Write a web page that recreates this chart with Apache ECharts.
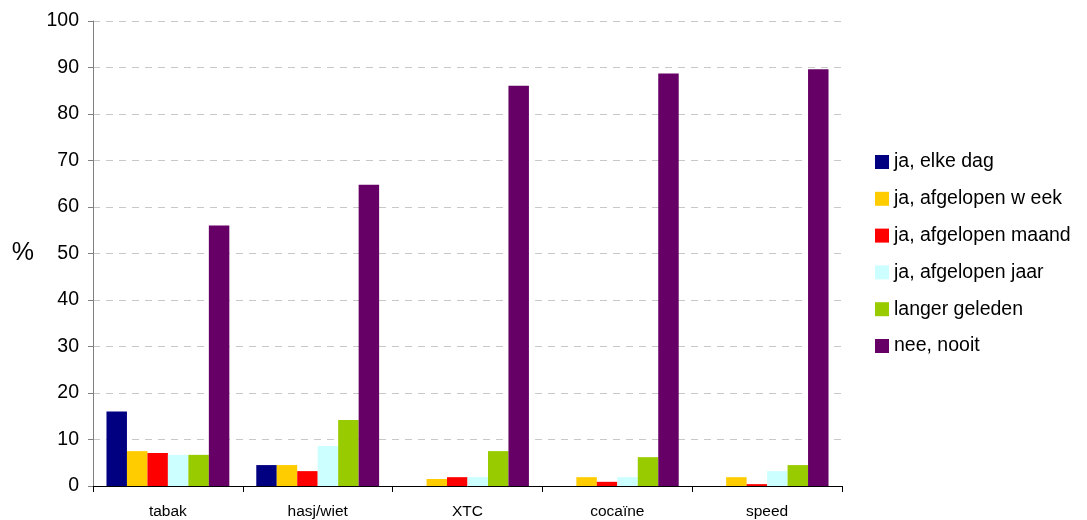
<!DOCTYPE html>
<html>
<head>
<meta charset="utf-8">
<script src="https://cdn.jsdelivr.net/npm/echarts@6/dist/echarts.min.js"></script>
<style>
  html, body { margin: 0; padding: 0; background: #fff; }
  #chart { width: 1087px; height: 520px; }
</style>
</head>
<body>
<div id="chart"></div>
<script>
const categories = ['tabak', 'hasj/wiet', 'XTC', 'cocaïne', 'speed'];
const seriesNames = ['ja, elke dag', 'ja, afgelopen w eek', 'ja, afgelopen maand', 'ja, afgelopen jaar', 'langer geleden', 'nee, nooit'];
const colors = ['#000080', '#FFCC00', '#FF0000', '#CCFFFF', '#99CC00', '#660066'];

const elkeDag = [16, 4.5, 0, 0, 0];
const week = [7.5, 4.5, 1.5, 1.9, 1.9];
const maand = [7.1, 3.2, 1.9, 0.9, 0.4];
const jaar = [6.7, 8.6, 1.9, 1.9, 3.2];
const langer = [6.7, 14.2, 7.5, 6.2, 4.5];
const nooit = [56, 64.8, 86.1, 88.7, 89.6];

const values = [elkeDag, week, maand, jaar, langer, nooit];

const chart = echarts.init(document.getElementById('chart'));

const font = 'Liberation Sans, Arial, sans-serif';

const option = {
  animation: false,
  backgroundColor: '#fff',
  textStyle: { fontFamily: font },
  grid: { left: 93, right: 245, top: 21, bottom: 34, containLabel: false },
  legend: {
    orient: 'vertical',
    left: 875,
    top: 152,
    padding: 0,
    icon: 'rect',
    itemWidth: 14,
    itemHeight: 14,
    itemGap: 16.8,
    data: seriesNames,
    textStyle: { fontSize: 19.5, lineHeight: 20, color: '#000', fontFamily: font }
  },
  xAxis: {
    type: 'category',
    data: categories,
    axisLine: { lineStyle: { color: '#000', width: 1 } },
    axisTick: { show: true, length: 6, lineStyle: { color: '#000' } },
    axisLabel: { fontSize: 15.5, color: '#000', margin: 18, fontFamily: font }
  },
  yAxis: {
    type: 'value',
    min: 0,
    max: 100,
    interval: 10,
    name: '%',
    nameLocation: 'middle',
    nameRotate: 0,
    nameGap: 59,
    nameTextStyle: { fontSize: 25, color: '#000', fontFamily: font },
    axisLine: { show: true, lineStyle: { color: '#808080', width: 1 } },
    axisTick: { show: true, length: 5, lineStyle: { color: '#808080' } },
    axisLabel: { fontSize: 19.5, color: '#000', margin: 14, fontFamily: font },
    splitLine: { show: true, lineStyle: { color: '#c8c8c8', type: [7, 6], width: 1 } }
  },
  series: values.map((data, i) => ({
    name: seriesNames[i],
    type: 'bar',
    data: data,
    barGap: '0%',
    barCategoryGap: '18%',
    itemStyle: { color: colors[i] }
  }))
};

chart.setOption(option);
</script>
</body>
</html>
